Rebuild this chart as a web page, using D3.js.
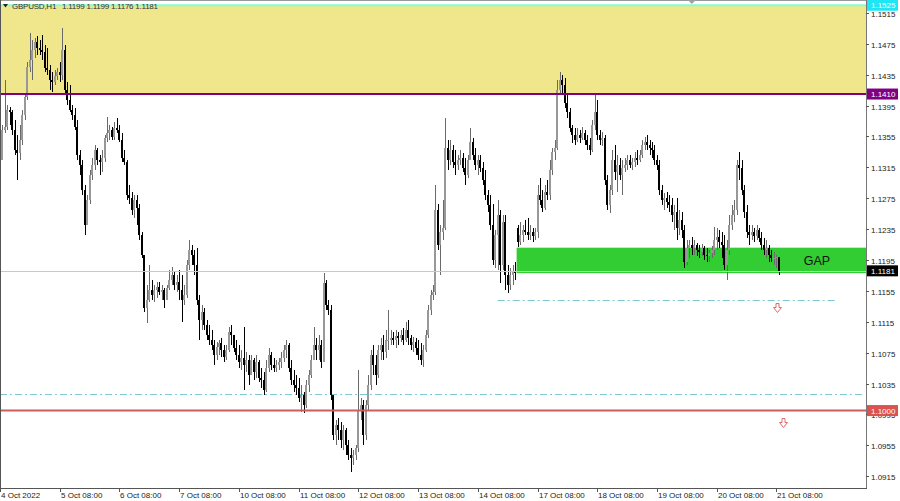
<!DOCTYPE html>
<html><head><meta charset="utf-8">
<script src="https://cdn.jsdelivr.net/npm/d3@7"></script>
<style>html,body{margin:0;padding:0;background:#fff;overflow:hidden}svg{display:block}</style>
</head><body><svg id="c" width="900" height="501"></svg>
<script>
const symbol = "GBPUSD,H1";
const dayLabels = ["4 Oct 2022","5 Oct 08:00","6 Oct 08:00","7 Oct 08:00","10 Oct 08:00","11 Oct 08:00","12 Oct 08:00","13 Oct 08:00","14 Oct 08:00","17 Oct 08:00","18 Oct 08:00","19 Oct 08:00","20 Oct 08:00","21 Oct 08:00"];
const barsPerLabel = 24;
const priceTicks = [1.1515,1.1475,1.1435,1.1395,1.1355,1.1315,1.1275,1.1235,1.1195,1.1155,1.1115,1.1075,1.1035,1.0995,1.0955,1.0915];

const closes = [1.1325,1.1363,1.1367,1.1389,1.1387,1.1363,1.1338,1.1334,1.1350,1.1383,
1.1406,1.1445,1.1454,1.1467,1.1477,1.1470,1.1467,1.1465,1.1444,1.1441,
1.1428,1.1426,1.1433,1.1439,1.1435,1.1467,1.1415,1.1402,1.1389,1.1383,
1.1367,1.1331,1.1318,1.1286,1.1241,1.1273,1.1305,1.1318,1.1338,1.1325,
1.1322,1.1327,1.1353,1.1360,1.1363,1.1354,1.1366,1.1363,1.1350,1.1327,
1.1322,1.1279,1.1275,1.1260,1.1273,1.1262,1.1228,1.1202,1.1133,1.1143,
1.1156,1.1150,1.1156,1.1160,1.1154,1.1156,1.1143,1.1159,1.1169,1.1176,
1.1163,1.1167,1.1156,1.1143,1.1150,1.1189,1.1208,1.1202,1.1189,1.1143,
1.1117,1.1128,1.1111,1.1098,1.1091,1.1085,1.1072,1.1082,1.1087,1.1078,
1.1069,1.1078,1.1102,1.1098,1.1081,1.1072,1.1063,1.1068,1.1059,1.1066,
1.1046,1.1066,1.1050,1.1063,1.1042,1.1040,1.1027,1.1055,1.1072,1.1059,
1.1055,1.1059,1.1063,1.1068,1.1078,1.1085,1.1055,1.1040,1.1033,1.1029,
1.1016,1.1020,1.1007,1.1033,1.1046,1.1066,1.1085,1.1078,1.1085,1.1063,
1.1165,1.1137,1.1130,1.1020,1.0968,1.0981,1.0975,1.0962,1.0975,1.0955,
1.0942,1.0938,1.0942,1.0951,1.1001,1.1007,1.0968,1.1007,1.1033,1.1072,
1.1059,1.1046,1.1078,1.1085,1.1076,1.1091,1.1091,1.1094,1.1091,1.1097,
1.1094,1.1098,1.1091,1.1104,1.1094,1.1085,1.1089,1.1081,1.1072,1.1066,
1.1078,1.1098,1.1130,1.1150,1.1154,1.1260,1.1214,1.1231,1.1236,1.1340,
1.1325,1.1338,1.1322,1.1318,1.1325,1.1327,1.1314,1.1305,1.1325,1.1348,
1.1331,1.1318,1.1325,1.1314,1.1299,1.1279,1.1266,1.1240,1.1195,1.1228,
1.1253,1.1189,1.1244,1.1176,1.1163,1.1176,1.1179,1.1178,1.1218,1.1227,
1.1234,1.1231,1.1227,1.1231,1.1226,1.1231,1.1279,1.1273,1.1262,1.1283,
1.1279,1.1312,1.1335,1.1340,1.1415,1.1428,1.1422,1.1398,1.1387,1.1366,
1.1357,1.1350,1.1357,1.1353,1.1360,1.1350,1.1344,1.1338,1.1370,1.1387,
1.1357,1.1350,1.1353,1.1299,1.1266,1.1286,1.1325,1.1309,1.1318,1.1305,
1.1314,1.1318,1.1325,1.1318,1.1322,1.1327,1.1325,1.1331,1.1344,1.1348,
1.1344,1.1340,1.1338,1.1325,1.1318,1.1286,1.1273,1.1275,1.1270,1.1266,
1.1253,1.1257,1.1236,1.1247,1.1234,1.1192,1.1211,1.1214,1.1211,1.1214,
1.1208,1.1205,1.1211,1.1202,1.1200,1.1204,1.1208,1.1221,1.1225,1.1218,
1.1214,1.1189,1.1208,1.1241,1.1253,1.1260,1.1318,1.1314,1.1286,1.1257,
1.1231,1.1228,1.1231,1.1226,1.1234,1.1224,1.1214,1.1208,1.1211,1.1202,
1.1198,1.1198,1.1199,1.1181];

const highs = [1.1366,1.1370,1.1428,1.1396,1.1393,1.1389,1.1376,1.1357,1.1370,1.1389,
1.1411,1.1451,1.1489,1.1480,1.1483,1.1485,1.1480,1.1487,1.1474,1.1470,
1.1448,1.1439,1.1441,1.1444,1.1451,1.1496,1.1474,1.1426,1.1422,1.1396,
1.1392,1.1376,1.1338,1.1325,1.1292,1.1279,1.1312,1.1327,1.1344,1.1340,
1.1331,1.1338,1.1357,1.1380,1.1370,1.1367,1.1374,1.1379,1.1370,1.1360,
1.1338,1.1325,1.1292,1.1283,1.1279,1.1279,1.1267,1.1231,1.1202,1.1163,
1.1189,1.1169,1.1163,1.1166,1.1167,1.1163,1.1159,1.1163,1.1182,1.1186,
1.1179,1.1176,1.1182,1.1176,1.1163,1.1195,1.1221,1.1214,1.1208,1.1211,
1.1150,1.1137,1.1133,1.1117,1.1111,1.1104,1.1091,1.1089,1.1091,1.1094,
1.1085,1.1085,1.1108,1.1111,1.1098,1.1091,1.1085,1.1078,1.1108,1.1076,
1.1072,1.1072,1.1068,1.1072,1.1066,1.1055,1.1050,1.1066,1.1081,1.1076,
1.1068,1.1066,1.1068,1.1076,1.1085,1.1091,1.1087,1.1066,1.1053,1.1046,
1.1042,1.1033,1.1024,1.1040,1.1053,1.1072,1.1108,1.1094,1.1098,1.1091,
1.1178,1.1169,1.1143,1.1137,1.1020,1.0988,1.0990,1.0985,1.0981,1.0977,
1.0962,1.0951,1.0949,1.0955,1.1053,1.1016,1.1014,1.1014,1.1046,1.1078,
1.1085,1.1072,1.1085,1.1094,1.1098,1.1104,1.1130,1.1104,1.1102,1.1104,
1.1102,1.1104,1.1107,1.1115,1.1117,1.1098,1.1095,1.1094,1.1091,1.1087,
1.1085,1.1104,1.1137,1.1156,1.1163,1.1292,1.1267,1.1241,1.1273,1.1379,
1.1350,1.1350,1.1344,1.1338,1.1331,1.1338,1.1334,1.1327,1.1331,1.1366,
1.1353,1.1340,1.1331,1.1331,1.1322,1.1312,1.1286,1.1279,1.1267,1.1234,
1.1273,1.1260,1.1253,1.1253,1.1189,1.1185,1.1189,1.1192,1.1240,1.1244,
1.1240,1.1247,1.1249,1.1240,1.1236,1.1236,1.1292,1.1301,1.1286,1.1292,
1.1299,1.1325,1.1340,1.1350,1.1428,1.1439,1.1435,1.1431,1.1409,1.1392,
1.1370,1.1366,1.1366,1.1363,1.1367,1.1363,1.1357,1.1353,1.1376,1.1409,
1.1402,1.1363,1.1361,1.1357,1.1305,1.1292,1.1338,1.1344,1.1331,1.1327,
1.1325,1.1327,1.1331,1.1331,1.1327,1.1335,1.1338,1.1338,1.1350,1.1354,
1.1357,1.1350,1.1348,1.1344,1.1331,1.1325,1.1292,1.1282,1.1283,1.1279,
1.1275,1.1266,1.1275,1.1260,1.1257,1.1241,1.1221,1.1221,1.1225,1.1221,
1.1217,1.1214,1.1216,1.1213,1.1211,1.1208,1.1213,1.1238,1.1236,1.1234,
1.1231,1.1227,1.1221,1.1253,1.1266,1.1273,1.1325,1.1335,1.1325,1.1292,
1.1266,1.1241,1.1241,1.1236,1.1241,1.1236,1.1231,1.1224,1.1221,1.1214,
1.1208,1.1205,1.1202,1.1199];

const lows = [1.1318,1.1350,1.1360,1.1363,1.1370,1.1357,1.1331,1.1299,1.1325,1.1344,
1.1376,1.1402,1.1439,1.1428,1.1457,1.1461,1.1461,1.1454,1.1439,1.1435,
1.1415,1.1413,1.1422,1.1428,1.1426,1.1428,1.1409,1.1396,1.1387,1.1376,
1.1363,1.1325,1.1305,1.1279,1.1228,1.1244,1.1267,1.1299,1.1312,1.1318,
1.1305,1.1309,1.1322,1.1348,1.1350,1.1350,1.1350,1.1360,1.1348,1.1322,
1.1318,1.1273,1.1267,1.1253,1.1250,1.1241,1.1221,1.1198,1.1128,1.1114,
1.1141,1.1143,1.1141,1.1146,1.1150,1.1143,1.1133,1.1143,1.1156,1.1163,
1.1156,1.1154,1.1143,1.1115,1.1137,1.1146,1.1182,1.1189,1.1176,1.1137,
1.1091,1.1104,1.1104,1.1091,1.1085,1.1078,1.1059,1.1066,1.1072,1.1069,
1.1063,1.1066,1.1076,1.1085,1.1076,1.1066,1.1055,1.1053,1.1027,1.1050,
1.1033,1.1046,1.1040,1.1042,1.1037,1.1029,1.1020,1.1024,1.1050,1.1053,
1.1050,1.1050,1.1053,1.1055,1.1063,1.1068,1.1050,1.1033,1.1024,1.1020,
1.1011,1.0998,1.0997,1.1003,1.1024,1.1042,1.1068,1.1066,1.1066,1.1055,
1.1072,1.1130,1.1124,1.1014,1.0962,1.0955,1.0962,1.0951,1.0949,1.0942,
1.0936,1.0920,1.0929,1.0936,1.0946,1.0988,1.0955,1.0962,1.1001,1.1027,
1.1046,1.1033,1.1042,1.1066,1.1066,1.1068,1.1078,1.1085,1.1085,1.1081,
1.1085,1.1089,1.1085,1.1089,1.1085,1.1078,1.1076,1.1072,1.1066,1.1059,
1.1057,1.1076,1.1094,1.1124,1.1143,1.1150,1.1208,1.1176,1.1221,1.1234,
1.1312,1.1318,1.1314,1.1305,1.1312,1.1318,1.1309,1.1292,1.1301,1.1325,
1.1325,1.1312,1.1305,1.1309,1.1292,1.1273,1.1257,1.1234,1.1189,1.1185,
1.1182,1.1165,1.1182,1.1156,1.1152,1.1156,1.1163,1.1169,1.1212,1.1214,
1.1218,1.1228,1.1221,1.1221,1.1218,1.1221,1.1224,1.1266,1.1257,1.1260,
1.1273,1.1273,1.1305,1.1325,1.1338,1.1409,1.1409,1.1392,1.1379,1.1361,
1.1347,1.1344,1.1348,1.1347,1.1350,1.1344,1.1338,1.1331,1.1335,1.1363,
1.1350,1.1344,1.1343,1.1292,1.1260,1.1256,1.1279,1.1299,1.1283,1.1299,
1.1279,1.1309,1.1312,1.1314,1.1312,1.1316,1.1318,1.1322,1.1327,1.1338,
1.1338,1.1331,1.1327,1.1318,1.1312,1.1279,1.1266,1.1260,1.1262,1.1257,
1.1244,1.1234,1.1221,1.1227,1.1224,1.1185,1.1189,1.1198,1.1202,1.1202,
1.1200,1.1198,1.1200,1.1195,1.1192,1.1192,1.1198,1.1202,1.1208,1.1211,
1.1198,1.1182,1.1169,1.1202,1.1234,1.1244,1.1253,1.1299,1.1279,1.1250,
1.1224,1.1214,1.1221,1.1218,1.1221,1.1218,1.1208,1.1202,1.1198,1.1192,
1.1192,1.1189,1.1185,1.1176];

const firstOpen = 1.1357;
const sessionOpens = {208: 1.1236};   // Monday 17 Oct open after the weekend gap

const zoneTop = 1.1525, zoneBottom = 1.1410;
const supportLevel = 1.1000;
const bidPrice = 1.1181;
const gap = {top: 1.1211, bottom: 1.1178, start: 208, label: "GAP", labelAt: 323};
const dashLevels = [{price: 1.1022, from: 0, to: 347}, {price: 1.1143, from: 200, to: 336.5}];
const arrowMarks = [{i: 312.3, price: 1.1133}, {i: 314.6, price: 1.0984}];

// ---------- drawing ----------
const svg = d3.select("#c");
const PW = 866, PH = 488;
const x = d3.scaleLinear().domain([0, 348]).range([0, PW]);
const y = d3.scaleLinear().domain([1.08997, 1.15318]).range([PH, 0]);
const fmt = d3.format(".4f");
const FONT = "'Liberation Sans', Arial, sans-serif";

svg.append("rect").attr("width", 900).attr("height", 501).attr("fill", "#fff");

const plot = svg.append("g");
plot.append("defs").append("clipPath").attr("id", "pc")
  .append("rect").attr("x", 0).attr("y", 0).attr("width", PW).attr("height", PH);
const P = plot.append("g").attr("clip-path", "url(#pc)");

// resistance zone
P.append("rect").attr("x", 0).attr("width", PW)
  .attr("y", y(zoneTop)).attr("height", y(zoneBottom) - y(zoneTop))
  .attr("fill", "#F0E68C");

// gap rectangle
P.append("rect").attr("x", x(gap.start) - 1).attr("width", PW - x(gap.start) + 1)
  .attr("y", y(gap.top)).attr("height", y(gap.bottom) - y(gap.top))
  .attr("fill", "#32CD32");

// dash-dot levels
dashLevels.forEach(d => {
  P.append("line").attr("x1", x(d.from)).attr("x2", x(d.to))
    .attr("y1", Math.round(y(d.price)) + 0.5).attr("y2", Math.round(y(d.price)) + 0.5)
    .attr("stroke", "#7cc8d4").attr("stroke-width", 1)
    .attr("stroke-dasharray", "7,3,2,3");
});

// candles
const bars = closes.map((c, i) => {
  const o = i === 0 ? firstOpen : (sessionOpens[i] !== undefined ? sessionOpens[i] : closes[i - 1]);
  return {i, o, h: highs[i], l: lows[i], c};
});
const cg = P.append("g").attr("shape-rendering", "crispEdges");
bars.forEach(b => {
  const cx = Math.round(x(b.i));
  const bull = b.c >= b.o;
  const hi = Math.max(b.h, b.o, b.c), lo = Math.min(b.l, b.o, b.c);
  cg.append("rect").attr("x", cx).attr("width", 1)
    .attr("y", Math.round(y(hi))).attr("height", Math.max(1, Math.round(y(lo)) - Math.round(y(hi))))
    .attr("fill", bull ? "#6a6a6a" : "#000");
  const top = Math.round(y(Math.max(b.o, b.c))), bot = Math.round(y(Math.min(b.o, b.c)));
  cg.append("rect").attr("x", cx - 1).attr("width", 2)
    .attr("y", top).attr("height", Math.max(1, bot - top))
    .attr("fill", bull ? "#989898" : "#000");
});

// bid line
P.append("line").attr("x1", 0).attr("x2", PW)
  .attr("y1", Math.round(y(bidPrice)) + 0.5).attr("y2", Math.round(y(bidPrice)) + 0.5)
  .attr("stroke", "#c8c8c8").attr("stroke-width", 1);

// horizontal levels
[[zoneTop, "#7FFFD4"], [zoneBottom, "#800080"], [supportLevel, "#CD5C5C"]].forEach(([p, c]) => {
  P.append("line").attr("x1", 0).attr("x2", PW).attr("y1", y(p)).attr("y2", y(p))
    .attr("stroke", c).attr("stroke-width", 2);
});

// gap text
P.append("text").attr("x", x(gap.labelAt)).attr("y", (y(gap.top) + y(gap.bottom)) / 2 + 4.5)
  .attr("font-family", FONT).attr("font-size", 12.5).attr("fill", "#111").text(gap.label);

// arrows
arrowMarks.forEach(a => {
  const cx = Math.round(x(a.i)) + 0.5, cy = Math.round(y(a.price)) + 0.5;
  P.append("path")
    .attr("d", `M${cx - 1.5},${cy - 5} h3 v4 h2.5 l-4,5 l-4,-5 h2.5 z`)
    .attr("fill", "#fff").attr("stroke", "#e06a6a").attr("stroke-width", 1);
});

// frame
svg.append("line").attr("x1", 0).attr("x2", PW).attr("y1", 0.5).attr("y2", 0.5).attr("stroke", "#9a9a9a");
svg.append("line").attr("x1", 0.5).attr("x2", 0.5).attr("y1", 0).attr("y2", PH).attr("stroke", "#555");
svg.append("line").attr("x1", PW + 0.5).attr("x2", PW + 0.5).attr("y1", 0).attr("y2", PH + 1).attr("stroke", "#777");
svg.append("line").attr("x1", 0).attr("x2", PW + 1).attr("y1", PH + 0.5).attr("y2", PH + 0.5).attr("stroke", "#555");

// chart shift marker
svg.append("path").attr("d", `M${x(278) - 4},0 h8 l-4,4 z`).attr("fill", "#a0a0a0");

// price axis
const ya = svg.append("g");
priceTicks.forEach(p => {
  const yy = Math.round(y(p)) + 0.5;
  ya.append("line").attr("x1", PW).attr("x2", PW + 3).attr("y1", yy).attr("y2", yy).attr("stroke", "#555");
  ya.append("text").attr("x", PW + 5).attr("y", yy + 3).attr("font-family", FONT).attr("font-size", 8)
    .attr("fill", "#222").text(fmt(p));
});
function tag(p, bg, fg) {
  const yy = y(p);
  ya.append("rect").attr("x", PW + 1).attr("y", yy - 5.5).attr("width", 31).attr("height", 11).attr("fill", bg);
  ya.append("text").attr("x", PW + 5).attr("y", yy + 3).attr("font-family", FONT).attr("font-size", 8)
    .attr("fill", fg).text(fmt(p));
}
tag(zoneTop, "#1ee6f5", "#fff");
tag(zoneBottom, "#800080", "#fff");
tag(bidPrice, "#000", "#fff");
tag(supportLevel, "#d9534f", "#fff");

// time axis
const xa = svg.append("g");
dayLabels.forEach((lab, k) => {
  const xx = Math.round(x(k * barsPerLabel)) + 0.5;
  xa.append("line").attr("x1", xx).attr("x2", xx).attr("y1", PH).attr("y2", PH + 4).attr("stroke", "#555");
  xa.append("text").attr("x", xx + 0.5).attr("y", 498).attr("font-family", FONT).attr("font-size", 8)
    .attr("fill", "#222").text(lab);
});

// header
const last = bars[bars.length - 1];
svg.append("path").attr("d", "M3,4 h5 l-2.5,3.5 z").attr("fill", "#222");
svg.append("text").attr("x", 12).attr("y", 9).attr("font-family", FONT).attr("font-size", 8)
  .attr("fill", "#333").style("white-space", "pre")
  .attr("textLength", 146).attr("lengthAdjust", "spacing")
  .text(`${symbol}   ${fmt(last.o)} ${fmt(last.h)} ${fmt(last.l)} ${fmt(last.c)}`);
</script>
</body></html>
